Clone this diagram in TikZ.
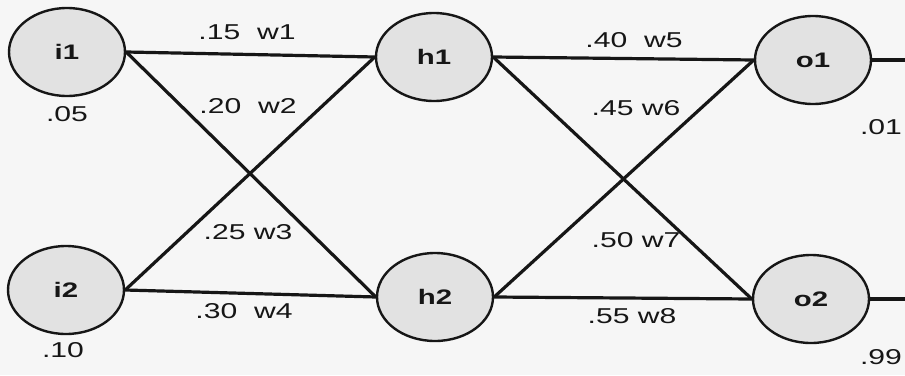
\documentclass[tikz,border=0pt]{standalone}
\usepackage{fontspec}
\setmainfont{Liberation Sans}
\usepackage{graphicx}
\usetikzlibrary{shapes.geometric}
% horizontally stretched lettering
\newcommand\widetext[1]{\scalebox{1.4}[1]{#1}}
\definecolor{ink}{HTML}{161616}
\definecolor{nodefill}{HTML}{E2E2E2}
\definecolor{paper}{HTML}{F6F6F6}
\begin{document}
\begin{tikzpicture}[x=1pt,y=-1pt,
  neuron/.style={ellipse, draw=ink, line width=2.4pt, fill=nodefill,
    minimum width=116pt, minimum height=88pt, inner sep=0pt,
    font=\fontsize{21}{21}\selectfont\bfseries, text=ink},
  link/.style={draw=ink, line width=3.2pt},
  wlabel/.style={font=\fontsize{21.5}{21.5}\selectfont, text=ink, inner sep=0pt}]
\fill[paper] (0,0) rectangle (905,375);
\useasboundingbox (0,0) rectangle (905,375);

% neurons
\node[neuron] (i1) at (67,52)  {\widetext{i1}};
\node[neuron] (i2) at (66,290) {\widetext{i2}};
\node[neuron] (h1) at (434,57) {\widetext{h1}};
\node[neuron] (h2) at (435,297) {\widetext{h2}};
\node[neuron] (o1) at (813,60) {\widetext{o1}};
\node[neuron] (o2) at (811,299) {\widetext{o2}};

\coordinate (out1) at (905,60);
\coordinate (out2) at (905,299);

% weighted connections
\draw[link] (i1.east) -- (h1.west);
\draw[link] (i1.east) -- (h2.west);
\draw[link] (i2.east) -- (h1.west);
\draw[link] (i2.east) -- (h2.west);
\draw[link] (h1.east) -- (o1.west);
\draw[link] (h1.east) -- (o2.west);
\draw[link] (h2.east) -- (o1.west);
\draw[link] (h2.east) -- (o2.west);
\draw[link] (o1.east) -- (out1);
\draw[link] (o2.east) -- (out2);

% weights
\node[wlabel] (lw1) at (247,32)  {\widetext{.15\ \ w1}};
\node[wlabel] (lw2) at (248,106) {\widetext{.20\ \ w2}};
\node[wlabel] (lw3) at (248,232) {\widetext{.25\ w3}};
\node[wlabel] (lw4) at (244,311) {\widetext{.30\ \ w4}};
\node[wlabel] (lw5) at (634,40)  {\widetext{.40\ \ w5}};
\node[wlabel] (lw6) at (636,108) {\widetext{.45 w6}};
\node[wlabel] (lw7) at (636,240) {\widetext{.50 w7}};
\node[wlabel] (lw8) at (632,316) {\widetext{.55 w8}};

% inputs and targets
\node[wlabel] (v1) at (67,114)  {\widetext{.05}};
\node[wlabel] (v2) at (63,350)  {\widetext{.10}};
\node[wlabel] (t1) at (881,127) {\widetext{.01}};
\node[wlabel] (t2) at (881,357) {\widetext{.99}};
\end{tikzpicture}
\end{document}
